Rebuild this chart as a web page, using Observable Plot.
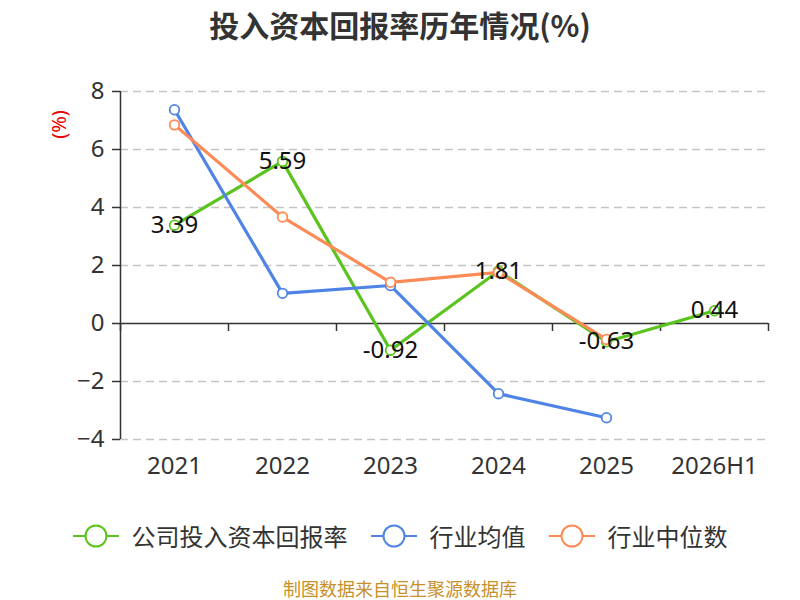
<!DOCTYPE html>
<html><head><meta charset="utf-8">
<script src="https://cdn.jsdelivr.net/npm/d3@7"></script>
<script src="https://cdn.jsdelivr.net/npm/@observablehq/plot@0.6"></script>
<style>
body{margin:0;background:#fff;font-family:"Noto Sans","Noto Sans CJK SC",sans-serif;}
#wrap{position:relative;width:800px;height:600px;overflow:hidden;}
#title{position:absolute;top:2px;left:0;width:800px;text-align:center;font-size:30px;font-weight:bold;color:#333;font-family:"Noto Sans CJK SC","Noto Sans",sans-serif;}
#chart{position:absolute;top:50px;left:0;}
#unit{position:absolute;left:44px;top:111px;color:#e00;font-size:20px;transform:rotate(-90deg);transform-origin:center;}
#legend{position:absolute;top:518px;left:0;width:800px;display:flex;justify-content:center;gap:23px;font-size:24px;color:#333;font-family:"Noto Sans CJK SC","Noto Sans",sans-serif;}
#legend .item{display:flex;align-items:center;gap:13px;}
#caption{position:absolute;top:575px;left:0;width:800px;text-align:center;font-size:18px;color:#c8902a;font-family:"Noto Sans CJK SC",sans-serif;}
</style></head>
<body><div id="wrap">
<div id="title">投入资本回报率历年情况(%)</div>
<div id="unit">(%)</div>
<div id="chart"></div>
<div id="legend"></div>
<div id="caption">制图数据来自恒生聚源数据库</div>
</div>
<script>
const categories = ["2021","2022","2023","2024","2025","2026H1"];
const companyValues = [3.39, 5.59, -0.92, 1.81, -0.63, 0.44];
const industryAvg = [7.37, 1.04, 1.31, -2.42, -3.25, null];
const industryMedian = [6.85, 3.67, 1.42, 1.76, -0.55, null];
const yTicks = [-4, -2, 0, 2, 4, 6, 8];
const seriesNames = ["公司投入资本回报率","行业均值","行业中位数"];
const colors = ["#5ac31e","#4f84e6","#fd8b58"];

const rows = (vals, name) => categories.map((c,i)=>({cat:c, v:vals[i], name})).filter(d=>d.v!=null);
const comp = rows(companyValues, seriesNames[0]);
const avg = rows(industryAvg, seriesNames[1]);
const med = rows(industryMedian, seriesNames[2]);

const half = 54;
const chart = Plot.plot({
  width: 800, height: 450,
  marginTop: 41, marginBottom: 61, marginLeft: 120, marginRight: 32,
  style: {fontFamily: '"Noto Sans","Noto Sans CJK SC",sans-serif', background: "transparent"},
  x: {type: "band", domain: categories, padding: 0, label: null},
  y: {domain: [-4, 8], label: null},
  marks: [
    Plot.gridY(yTicks.filter(t=>t!==0), {stroke: "#c4c4c4", strokeOpacity: 1, strokeDasharray: "8,5", strokeWidth: 1.5}),
    Plot.axisY({ticks: yTicks, tickSize: 8, tickPadding: 8, fontSize: 24, color: "#333", stroke: "#333", strokeWidth: 1.5}),
    Plot.axisX({tickSize: 0, tickPadding: 17, fontSize: 24, color: "#333"}),
    Plot.ruleX([categories[0]], {x: d=>d, y1: -4, y2: 8, dx: -half, stroke: "#333", strokeWidth: 1.5}),
    Plot.ruleY([0], {stroke: "#333", strokeWidth: 1.5}),
    Plot.ruleX(categories, {x: d=>d, y1: 0, y2: 0, dx: -half, insetBottom: -8, stroke: "#333", strokeWidth: 1.5}),
    Plot.ruleX([categories[categories.length-1]], {x: d=>d, y1: 0, y2: 0, dx: half, insetBottom: -8, stroke: "#333", strokeWidth: 1.5}),
    Plot.line(comp, {x: "cat", y: "v", stroke: colors[0], strokeWidth: 3.2}),
    Plot.dot(comp, {x: "cat", y: "v", r: 4.8, fill: "white", stroke: colors[0], strokeWidth: 1.8}),
    Plot.line(avg, {x: "cat", y: "v", stroke: colors[1], strokeWidth: 3.2}),
    Plot.dot(avg, {x: "cat", y: "v", r: 4.8, fill: "white", stroke: colors[1], strokeWidth: 1.8}),
    Plot.line(med, {x: "cat", y: "v", stroke: colors[2], strokeWidth: 3.2}),
    Plot.dot(med, {x: "cat", y: "v", r: 4.8, fill: "white", stroke: colors[2], strokeWidth: 1.8}),
    Plot.text(comp, {x: "cat", y: "v", text: d=>d.v.toFixed(2), fontSize: 24, fill: "#111"})
  ]
});
document.getElementById("chart").appendChild(chart);

const legend = document.getElementById("legend");
seriesNames.forEach((n,i)=>{
  const it = document.createElement("div");
  it.className = "item";
  it.innerHTML = `<svg width="46" height="26"><line x1="0" y1="13" x2="46" y2="13" stroke="${colors[i]}" stroke-width="2"/><circle cx="23" cy="13" r="10.5" fill="white" stroke="${colors[i]}" stroke-width="2"/></svg><span>${n}</span>`;
  legend.appendChild(it);
});
</script>
</body></html>
